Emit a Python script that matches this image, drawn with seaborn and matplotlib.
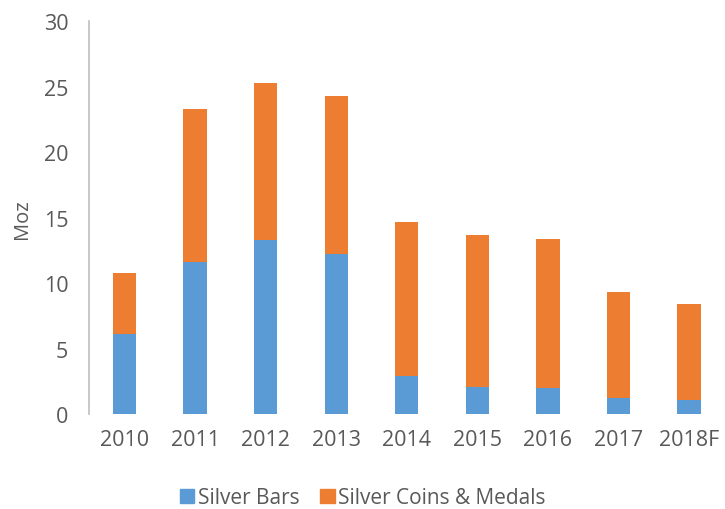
import matplotlib.pyplot as plt
import seaborn as sns
import pandas as pd
from matplotlib.patches import Patch

years = ["2010", "2011", "2012", "2013", "2014", "2015", "2016", "2017", "2018F"]
silver_bars = [6.1, 11.6, 13.3, 12.2, 2.9, 2.1, 2.0, 1.2, 1.05]
coins_medals = [4.7, 11.7, 12.0, 12.1, 11.75, 11.6, 11.4, 8.1, 7.35]

azul = "#5B9BD5"
naranja = "#ED7D31"
gris = "#595959"

df = pd.DataFrame({"year": years, "bars": silver_bars, "coins": coins_medals})
df["total"] = df["bars"] + df["coins"]

sns.set_style("white")
plt.rcParams["font.family"] = ["Open Sans", "DejaVu Sans"]

fig = plt.figure(figsize=(7.25, 5.1), dpi=100)
ax = fig.add_axes([0.123, 0.186, 0.876, 0.77])

# barra total en naranja, encima la azul
sns.barplot(data=df, x="year", y="total", color=naranja, width=0.33, saturation=1, linewidth=0, ax=ax)
sns.barplot(data=df, x="year", y="bars", color=azul, width=0.33, saturation=1, linewidth=0, ax=ax)

ax.set_ylim(0, 30)
ax.set_yticks(range(0, 31, 5))
ax.set_xlim(-0.5, len(years) - 0.5)
ax.set_xlabel("")
ax.set_ylabel("Moz", fontsize=14.5, color=gris)
ax.yaxis.set_label_coords(-0.09, 0.5)

for lado in ["top", "right", "bottom"]:
    ax.spines[lado].set_visible(False)
ax.spines["left"].set_color("#BFBFBF")
ax.spines["left"].set_linewidth(1.2)

ax.tick_params(axis="both", length=0, labelsize=15.5, labelcolor=gris)
ax.tick_params(axis="y", pad=15)
ax.tick_params(axis="x", pad=11)

handles = [Patch(color=azul, label="Silver Bars"), Patch(color=naranja, label="Silver Coins & Medals")]
fig.legend(handles=handles, loc="center", bbox_to_anchor=(0.5, 0.022), ncol=2, frameon=False,
           fontsize=15, handlelength=0.7, handleheight=0.7, handletextpad=0.15, columnspacing=1.0,
           labelcolor=gris)

plt.savefig("out.png", dpi=100)
